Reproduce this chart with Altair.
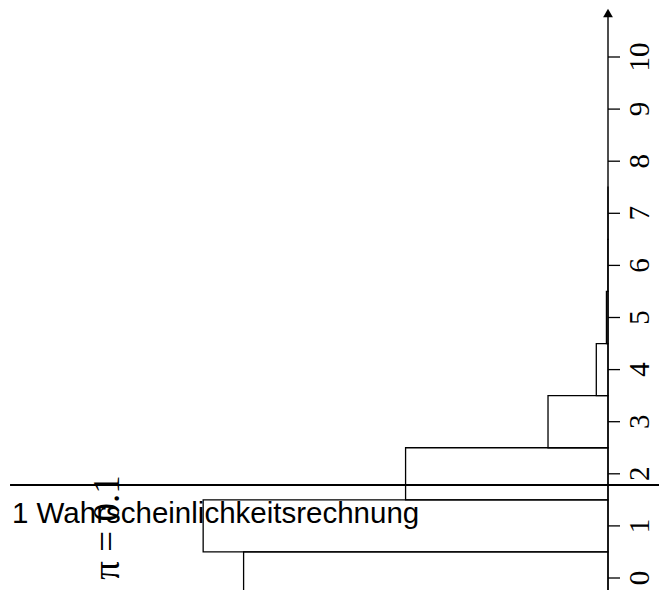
import altair as alt
import pandas as pd

# Binomial distribution B(10, 0.1), drawn rotated (bars grow to the left)
k_values = [0, 1, 2, 3, 4, 5, 6, 7]
probabilities = [0.3487, 0.3874, 0.1937, 0.0574, 0.0112, 0.0015, 0.0001, 0.00001]
tick_values = [0, 1, 2, 3, 4, 5, 6, 7, 8, 9, 10]
tick_labels = [str(v) for v in tick_values]
header_text = ["1 Wahrscheinlichkeitsrechnung"]
param_text = ["π = 0.1"]

bars = pd.DataFrame({"k": k_values, "p": probabilities})
bars["k0"] = bars["k"] - 0.5
bars["k1"] = bars["k"] + 0.5
bars["zero"] = 0.0

ticks = pd.DataFrame({"k": tick_values, "label": tick_labels})
ticks["a"] = 0.0
ticks["b"] = -0.0115
ticks["lp"] = -0.0306

xs = alt.Scale(domain=[-0.0488, 0.5818], reverse=True, nice=False, zero=False)
ys = alt.Scale(domain=[-0.2303, 11.094], nice=False, zero=False)

rects = alt.Chart(bars).mark_rect(
    fillOpacity=0, stroke="black", strokeWidth=1.3
).encode(
    x=alt.X("p:Q", scale=xs, axis=None),
    x2="zero:Q",
    y=alt.Y("k0:Q", scale=ys, axis=None),
    y2="k1:Q",
)

axis_line = alt.Chart(pd.DataFrame({"p": [0.0], "a": [-0.2303], "b": [10.8]})).mark_rule(
    color="black", strokeWidth=1.4
).encode(
    x=alt.X("p:Q", scale=xs, axis=None),
    y=alt.Y("a:Q", scale=ys, axis=None),
    y2="b:Q",
)

arrow = alt.Chart(pd.DataFrame({"p": [0.0], "k": [10.845]})).mark_point(
    shape="triangle-up", filled=True, color="black", size=95, opacity=1
).encode(
    x=alt.X("p:Q", scale=xs, axis=None),
    y=alt.Y("k:Q", scale=ys, axis=None),
)

tick_marks = alt.Chart(ticks).mark_rule(color="black", strokeWidth=1.3).encode(
    x=alt.X("a:Q", scale=xs, axis=None),
    x2="b:Q",
    y=alt.Y("k:Q", scale=ys, axis=None),
)

tick_text = alt.Chart(ticks).mark_text(
    align="center", baseline="middle", angle=270, font="Liberation Serif",
    fontSize=29, color="black"
).encode(
    x=alt.X("lp:Q", scale=xs, axis=None),
    y=alt.Y("k:Q", scale=ys, axis=None),
    text="label:N",
)

header_rule = alt.Chart(pd.DataFrame({"a": [0.5722], "b": [-0.0488], "k": [1.785]})).mark_rule(
    color="black", strokeWidth=2.2
).encode(
    x=alt.X("a:Q", scale=xs, axis=None),
    x2="b:Q",
    y=alt.Y("k:Q", scale=ys, axis=None),
)

header = alt.Chart(pd.DataFrame({"t": header_text, "p": [0.5703], "k": [1.056]})).mark_text(
    align="left", baseline="alphabetic", font="Liberation Sans", fontSize=29.5, color="black"
).encode(
    x=alt.X("p:Q", scale=xs, axis=None),
    y=alt.Y("k:Q", scale=ys, axis=None),
    text="t:N",
)

param = alt.Chart(pd.DataFrame({"t": param_text, "p": [0.4785], "k": [0.969]})).mark_text(
    align="center", baseline="middle", angle=270, font="Liberation Serif", fontSize=37, color="black"
).encode(
    x=alt.X("p:Q", scale=xs, axis=None),
    y=alt.Y("k:Q", scale=ys, axis=None),
    text="t:N",
)

chart = alt.layer(header_rule, rects, axis_line, arrow, tick_marks, tick_text, header, param).properties(
    width=659, height=590, padding=0, autosize=alt.AutoSizeParams(type="none"),
    background="white",
).configure_view(stroke=None)

chart.save("out.html", embed_options={"renderer": "svg", "actions": False})
